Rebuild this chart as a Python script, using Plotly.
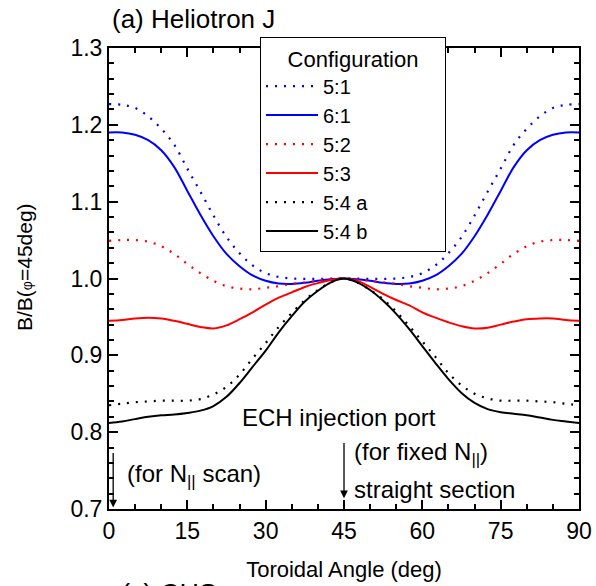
import plotly.graph_objects as go

# Toroidal angle (deg)
angle = [0, 2.5, 5, 7.5, 10, 12.5, 15, 17.5, 20, 22.5, 25, 27.5, 30, 32.5, 35, 37.5, 40, 42.5,
         45, 47.5, 50, 52.5, 55, 57.5, 60, 62.5, 65, 67.5, 70, 72.5, 75, 77.5, 80, 82.5, 85, 87.5, 90]

cfg_5_1 = [1.227, 1.226, 1.222, 1.211, 1.195, 1.174, 1.143, 1.113, 1.082, 1.054, 1.033, 1.017, 1.007,
           1.002, 1.000, 0.9995, 0.9995, 1.000, 1.000, 1.000, 0.9995, 0.9995, 1.000, 1.002, 1.007,
           1.017, 1.033, 1.054, 1.082, 1.113, 1.143, 1.174, 1.195, 1.211, 1.222, 1.226, 1.227]

cfg_6_1 = [1.190, 1.190, 1.187, 1.180, 1.167, 1.145, 1.114, 1.083, 1.055, 1.032, 1.016, 1.004, 0.997,
           0.9935, 0.993, 0.9945, 0.997, 0.999, 1.000, 0.999, 0.997, 0.9945, 0.993, 0.9935, 0.997,
           1.004, 1.016, 1.032, 1.055, 1.083, 1.114, 1.145, 1.167, 1.180, 1.187, 1.190, 1.190]

cfg_5_2 = [1.049, 1.050, 1.050, 1.048, 1.042, 1.032, 1.019, 1.007, 0.997, 0.990, 0.987, 0.986, 0.988,
           0.990, 0.993, 0.995, 0.997, 0.999, 1.000, 0.999, 0.997, 0.995, 0.993, 0.990, 0.988,
           0.986, 0.987, 0.990, 0.997, 1.007, 1.019, 1.032, 1.042, 1.048, 1.050, 1.050, 1.049]

cfg_5_3 = [0.945, 0.946, 0.948, 0.949, 0.948, 0.945, 0.941, 0.937, 0.935, 0.939, 0.947, 0.956, 0.966,
           0.975, 0.982, 0.989, 0.994, 0.998, 1.000, 0.997, 0.989, 0.980, 0.972, 0.965, 0.956,
           0.949, 0.943, 0.938, 0.935, 0.936, 0.940, 0.944, 0.947, 0.948, 0.948, 0.946, 0.945]

cfg_5_4a = [0.835, 0.837, 0.839, 0.840, 0.841, 0.841, 0.841, 0.843, 0.849, 0.859, 0.875, 0.896, 0.916,
            0.937, 0.955, 0.972, 0.985, 0.995, 1.000, 0.995, 0.985, 0.973, 0.957, 0.938, 0.918,
            0.898, 0.877, 0.861, 0.850, 0.844, 0.841, 0.841, 0.841, 0.840, 0.839, 0.837, 0.835]

cfg_5_4b = [0.812, 0.814, 0.817, 0.820, 0.822, 0.823, 0.825, 0.828, 0.834, 0.846, 0.864, 0.885, 0.906,
            0.930, 0.951, 0.970, 0.984, 0.995, 1.000, 0.995, 0.985, 0.971, 0.954, 0.934, 0.912,
            0.890, 0.869, 0.851, 0.838, 0.830, 0.826, 0.824, 0.822, 0.819, 0.816, 0.814, 0.812]

series = [
    ("5:1", cfg_5_1, "#0000FF", "dot"),
    ("6:1", cfg_6_1, "#0000FF", "solid"),
    ("5:2", cfg_5_2, "#FF0000", "dot"),
    ("5:3", cfg_5_3, "#FF0000", "solid"),
    ("5:4 a", cfg_5_4a, "#000000", "dot"),
    ("5:4 b", cfg_5_4b, "#000000", "solid"),
]

FONT = "Arial, Liberation Sans, sans-serif"

fig = go.Figure()
for name, vals, color, style in series:
    if style == "dot":
        line = dict(color=color, width=2.2, dash="2px,7px", shape="spline", smoothing=1.0)
    else:
        line = dict(color=color, width=2, shape="spline", smoothing=1.0)
    fig.add_trace(go.Scatter(x=angle, y=vals, mode="lines", name=name, line=line))

axis_common = dict(
    showline=True, linecolor="black", linewidth=2, mirror="allticks",
    ticks="inside", ticklen=9, tickwidth=2, tickcolor="black",
    showgrid=False, zeroline=False, automargin=False,
    tickfont=dict(family=FONT, size=23, color="black"),
)

fig.update_xaxes(range=[0, 90], tick0=0, dtick=15,
                 minor=dict(dtick=5, ticks="inside", ticklen=5, tickwidth=1.5, tickcolor="black"),
                 title=dict(text="Toroidal Angle (deg)", font=dict(family=FONT, size=22, color="black"),
                            standoff=19),
                 **axis_common)
fig.update_yaxes(range=[0.7, 1.3], tick0=0.7, dtick=0.1, tickformat=".1f",
                 minor=dict(dtick=0.02, ticks="inside", ticklen=5, tickwidth=1.5, tickcolor="black"),
                 **axis_common)

text_font = dict(family=FONT, size=24, color="black")
annotations = [
    dict(x=43.95, y=0.8185, xref="x", yref="y", text="ECH injection port", showarrow=False,
         xanchor="center", yanchor="middle", font=text_font),
    dict(x=3.0, y=0.743, xref="x", yref="y", text="(for N<sub>||</sub> scan)", showarrow=False,
         xanchor="left", yanchor="middle", font=text_font),
    dict(x=46.6, y=0.772, xref="x", yref="y", text="(for fixed N<sub>||</sub>)", showarrow=False,
         xanchor="left", yanchor="middle", font=text_font),
    dict(x=46.6, y=0.726, xref="x", yref="y", text="straight section", showarrow=False,
         xanchor="left", yanchor="middle", font=text_font),
    # arrows
    dict(x=0.8, y=0.702, ax=0.8, ay=0.775, xref="x", yref="y", axref="x", ayref="y",
         text="", showarrow=True, arrowhead=2, arrowsize=1.2, arrowwidth=1.3, arrowcolor="black"),
    dict(x=45, y=0.714, ax=45, ay=0.788, xref="x", yref="y", axref="x", ayref="y",
         text="", showarrow=True, arrowhead=2, arrowsize=1.2, arrowwidth=1.3, arrowcolor="black"),
    # y-axis title
    dict(x=-0.1787, y=0.525, xref="paper", yref="paper", textangle=-90, showarrow=False,
         text="B/B(<span style='font-size:14px'>φ</span>=45deg)",
         xanchor="center", yanchor="middle", font=dict(family=FONT, size=21, color="black")),
    # next panel title (cut off at the bottom edge)
    dict(x=0.022, y=-0.1475, xref="paper", yref="paper", text="(c) CHS", showarrow=False,
         xanchor="left", yanchor="top", font=dict(family=FONT, size=27, color="black")),
]

fig.update_layout(
    width=596, height=586, autosize=False,
    margin=dict(l=109, r=17, t=48, b=77),
    paper_bgcolor="white", plot_bgcolor="white",
    font=dict(family=FONT, color="black"),
    title=dict(text="(a) Heliotron J", x=112 / 596, xanchor="left", xref="container",
               y=1 - 19 / 586, yanchor="middle", yref="container",
               font=dict(family=FONT, size=26, color="black")),
    legend=dict(x=(260 - 109) / 470, y=(509 - 37) / 461, xanchor="left", yanchor="top",
                bgcolor="white", bordercolor="black", borderwidth=1,
                font=dict(family=FONT, size=20, color="black"),
                title=dict(text="&nbsp;&nbsp;&nbsp;&nbsp;Configuration&nbsp;&nbsp;&nbsp;&nbsp;",
                           side="top center",
                           font=dict(family=FONT, size=22, color="black")),
                itemwidth=52, tracegroupgap=0),
    annotations=annotations,
    showlegend=True,
)

fig.write_html("out.html", config={"displayModeBar": False},
               post_script="document.body.style.margin='0';document.body.style.padding='0';")
